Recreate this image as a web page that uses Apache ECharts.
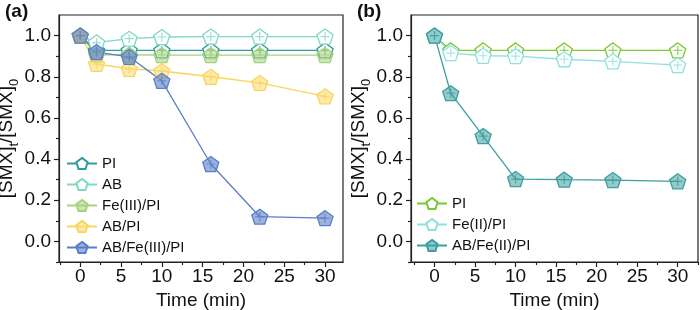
<!DOCTYPE html>
<html>
<head>
<meta charset="utf-8">
<script src="https://cdn.jsdelivr.net/npm/echarts@6/dist/echarts.min.js"></script>
<style>
  html, body { margin: 0; padding: 0; background: #fff; }
  #chart { width: 700px; height: 310px; }
</style>
</head>
<body>
<div id="chart"></div>
<script>
// sampling times (min)
var times = [0, 2, 6, 10, 16, 22, 30];

// panel (a)
var aPI = [1.0, 0.928, 0.928, 0.928, 0.928, 0.928, 0.928];
var aAB = [1.0, 0.966, 0.985, 0.993, 0.995, 0.995, 0.995];
var aFe3PI = [1.0, 0.907, 0.907, 0.905, 0.905, 0.905, 0.905];
var aABPI = [1.0, 0.862, 0.838, 0.828, 0.800, 0.770, 0.705];
var aABFe3PI = [1.0, 0.920, 0.897, 0.780, 0.376, 0.120, 0.113];

// panel (b)
var bPI = [1.0, 0.928, 0.928, 0.928, 0.928, 0.928, 0.928];
var bFe2PI = [1.0, 0.915, 0.902, 0.900, 0.885, 0.875, 0.856];
var bABFe2PI = [1.0, 0.720, 0.512, 0.303, 0.300, 0.298, 0.292];

var xMajor = [0, 5, 10, 15, 20, 25, 30];
var xMinor = [-2.5, 2.5, 7.5, 12.5, 17.5, 22.5, 27.5, 32.5];
var yMajor = [0, 0.2, 0.4, 0.6, 0.8, 1.0];
var yMinor = [-0.1, 0.1, 0.3, 0.5, 0.7, 0.9];

var FONT = 'Liberation Sans';
var PENTA = 'path://M0,-1L0.951,-0.309L0.588,0.809L-0.588,0.809L-0.951,-0.309Z';
var CROSS = 'path://M5,0L5,10M0,5L10,5';

function pts(ys) {
    return times.map(function(t, i) { return [t, ys[i]]; });
}

function lineSeries(name, ys, color, fill, idx) {
    return {
        name: name,
        type: 'line',
        xAxisIndex: idx * 2,
        yAxisIndex: idx * 2,
        data: pts(ys),
        symbol: PENTA,
        symbolSize: [16, 15],
        lineStyle: { color: color, width: 1.3 },
        itemStyle: { color: fill, borderColor: color, borderWidth: 1.3 },
        emphasis: { disabled: true },
        animation: false
    };
}

function crossSeries(ys, color, idx) {
    return {
        type: 'scatter',
        xAxisIndex: idx * 2,
        yAxisIndex: idx * 2,
        data: pts(ys),
        symbol: CROSS,
        symbolSize: 9,
        itemStyle: { color: 'none', borderColor: color, borderWidth: 1.2 },
        silent: true,
        animation: false,
        z: 3
    };
}

function xAxes(grid, min, max) {
    return [{
        gridIndex: grid, type: 'value', position: 'bottom', min: min, max: max,
        name: 'Time (min)', nameLocation: 'middle', nameGap: 24,
        nameTextStyle: { fontFamily: FONT, fontSize: 19, color: '#111' },
        axisLine: { onZero: false, lineStyle: { color: '#222', width: 1.2 } },
        axisTick: { customValues: xMajor, length: 5, lineStyle: { color: '#222', width: 1.2 } },
        axisLabel: { customValues: xMajor, margin: 5, fontFamily: FONT, fontSize: 19, color: '#111' },
        splitLine: { show: false }
    }, {
        gridIndex: grid, type: 'value', position: 'bottom', min: min, max: max,
        axisLine: { show: false, onZero: false },
        axisTick: { customValues: xMinor, length: 3, lineStyle: { color: '#222', width: 1.2 } },
        axisLabel: { show: false },
        splitLine: { show: false }
    }];
}

function yAxes(grid) {
    return [{
        gridIndex: grid, type: 'value', position: 'left', min: -0.1, max: 1.1,
        name: '[SMX]{s|t}/[SMX]{s|0}', nameLocation: 'middle', nameGap: 26,
        nameTextStyle: {
            fontFamily: FONT, fontSize: 19, color: '#111', lineHeight: 28,
            rich: { s: { fontFamily: FONT, fontSize: 13, color: '#111', verticalAlign: 'bottom', lineHeight: 13 } }
        },
        axisLine: { onZero: false, lineStyle: { color: '#222', width: 1.2 } },
        axisTick: { customValues: yMajor, length: 5, lineStyle: { color: '#222', width: 1.2 } },
        axisLabel: {
            customValues: yMajor, margin: 8, fontFamily: FONT, fontSize: 19, color: '#111',
            formatter: function(v) { return v.toFixed(1); }
        },
        splitLine: { show: false }
    }, {
        gridIndex: grid, type: 'value', position: 'left', min: -0.1, max: 1.1,
        axisLine: { show: false, onZero: false },
        axisTick: { customValues: yMinor, length: 3, lineStyle: { color: '#222', width: 1.2 } },
        axisLabel: { show: false },
        splitLine: { show: false }
    }];
}

var cA = ['#2f9c9c', '#7fd9c3', '#a6d27c', '#f9d55c', '#5b7fc6'];
var fA = ['#ffffff', '#ffffff', 'rgba(166,210,124,0.55)', 'rgba(252,222,120,0.6)', 'rgba(91,127,198,0.6)'];
var cB = ['#7dc934', '#8fe1e1', '#3c9e9e'];
var fB = ['#ffffff', '#ffffff', 'rgba(60,158,158,0.55)'];

var namesA = ['PI', 'AB', 'Fe(III)/PI', 'AB/PI', 'AB/Fe(III)/PI'];
var dataA = [aPI, aAB, aFe3PI, aABPI, aABFe3PI];
var namesB = ['PI ', 'Fe(II)/PI', 'AB/Fe(II)/PI'];
var dataB = [bPI, bFe2PI, bABFe2PI];

var series = [];
namesA.forEach(function(n, i) {
    series.push(lineSeries(n, dataA[i], cA[i], fA[i], 0));
    series.push(crossSeries(dataA[i], cA[i], 0));
});
namesB.forEach(function(n, i) {
    series.push(lineSeries(n, dataB[i], cB[i], fB[i], 1));
    series.push(crossSeries(dataB[i], cB[i], 1));
});

var legendText = { fontFamily: FONT, fontSize: 15, color: '#111' };

var option = {
    backgroundColor: '#fff',
    animation: false,
    grid: [
        { left: 59, right: 357, top: 15, bottom: 48, show: true, borderColor: '#222', borderWidth: 1.2,
          containLabel: false, outerBoundsMode: 'none' },
        { left: 411, right: 2, top: 15, bottom: 48, show: true, borderColor: '#222', borderWidth: 1.2,
          containLabel: false, outerBoundsMode: 'none' }
    ],
    xAxis: xAxes(0, -2.6, 32.2).concat(xAxes(1, -2.9, 32.5)),
    yAxis: yAxes(0).concat(yAxes(1)),
    legend: [{
        data: namesA, orient: 'vertical', left: 61, top: 151,
        itemWidth: 30, itemHeight: 14, itemGap: 6, textStyle: legendText
    }, {
        data: namesB, orient: 'vertical', left: 411, top: 191,
        itemWidth: 30, itemHeight: 14, itemGap: 6, textStyle: legendText
    }],
    graphic: [
        { type: 'text', left: 5, top: 2, style: { text: '(a)', font: 'bold 19px "Liberation Sans"', fill: '#111' } },
        { type: 'text', left: 357, top: 2, style: { text: '(b)', font: 'bold 19px "Liberation Sans"', fill: '#111' } }
    ],
    series: series
};

var myChart = echarts.init(document.getElementById('chart'));
myChart.setOption(option);
</script>
</body>
</html>
